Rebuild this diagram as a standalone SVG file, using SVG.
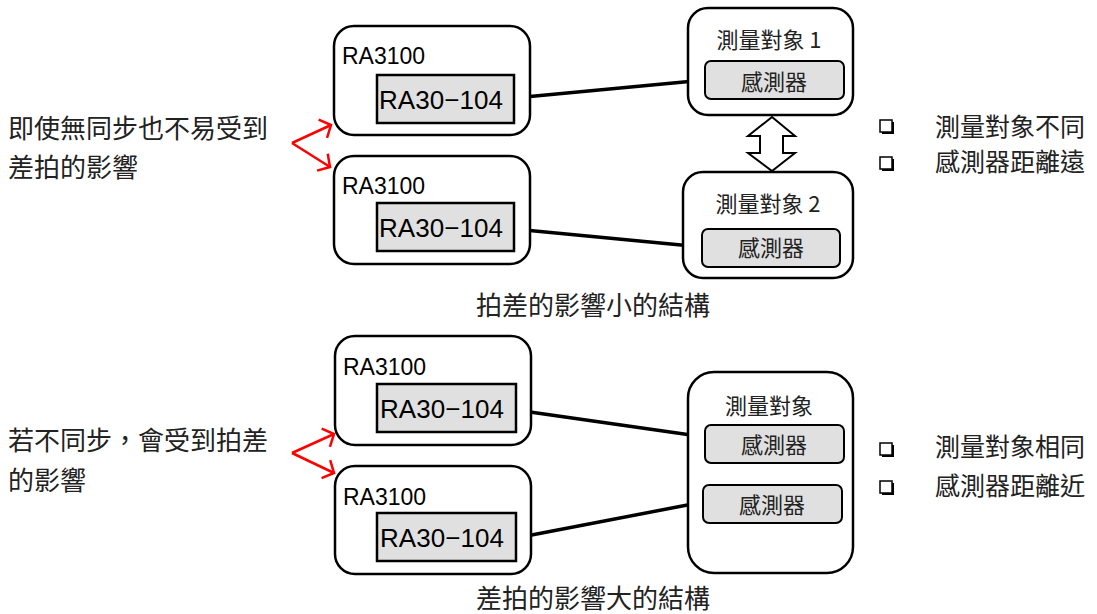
<svg xmlns="http://www.w3.org/2000/svg" width="1097" height="614" viewBox="0 0 1097 614">
<style>
.outer{fill:#fff;stroke:#000;stroke-width:2.5}
.inner{fill:#e0e0e0;stroke:#000;stroke-width:2.5}
.sensor{fill:#e0e0e0;stroke:#000;stroke-width:2}
.lat{font-family:"Liberation Sans",Arial,sans-serif;fill:#000}
.cjk{font-family:"Noto Sans CJK TC","Noto Sans CJK SC",sans-serif;fill:#222}
.conn{stroke:#000;stroke-width:3.5;fill:none}
.red{stroke:#ff0000;stroke-width:2.5;fill:none}
.bul{fill:#fff;stroke:#000;stroke-width:1.5}
.mid{text-anchor:middle}
</style>
<defs>
<marker id="ah" viewBox="-12 -12 14 24" refX="0" refY="0" markerWidth="14" markerHeight="24" markerUnits="userSpaceOnUse" orient="auto">
<path d="M-9,-10 L0,0 L-9,10" fill="none" stroke="#ff0000" stroke-width="2.5"/>
</marker>
<g id="bullet">
<rect x="2" y="2" width="12" height="12" fill="#000"/>
<rect x="0" y="0" width="12" height="12" class="bul"/>
</g>
</defs>

<!-- connectors -->
<g id="connectors">
<line class="conn" x1="514" y1="98" x2="705" y2="80"/>
<line class="conn" x1="514" y1="229" x2="702" y2="247"/>
<line class="conn" x1="516" y1="410" x2="705" y2="437"/>
<line class="conn" x1="516" y1="538" x2="703" y2="502"/>
<line class="red" x1="292" y1="143" x2="331" y2="125" marker-end="url(#ah)"/>
<line class="red" x1="292" y1="143" x2="330" y2="167" marker-end="url(#ah)"/>
<line class="red" x1="292" y1="453" x2="334" y2="434" marker-end="url(#ah)"/>
<line class="red" x1="292" y1="453" x2="334" y2="473" marker-end="url(#ah)"/>
<polygon points="772,117 795,136 783,136 783,153 795,153 772,171 748,153 760,153 760,136 748,136" fill="#fff" stroke="#000" stroke-width="2"/>
</g>

<!-- top section -->
<g id="ra3100-a">
<rect class="outer" x="334" y="26" width="196" height="109" rx="20"/>
<text class="lat" x="342" y="64" font-size="23">RA3100</text>
<rect class="inner" x="377" y="75" width="137" height="48"/>
<text class="lat" x="379" y="109" font-size="26" textLength="124">RA30−104</text>
</g>
<g id="ra3100-b">
<rect class="outer" x="334" y="156" width="196" height="108" rx="20"/>
<text class="lat" x="342" y="194" font-size="23">RA3100</text>
<rect class="inner" x="377" y="203" width="137" height="48"/>
<text class="lat" x="379" y="237" font-size="26" textLength="124">RA30−104</text>
</g>
<g id="target-1">
<rect class="outer" x="688" y="8" width="165" height="107" rx="20"/>
<text class="cjk mid" x="769" y="48" font-size="22">測量對象 1</text>
<rect class="sensor" x="705" y="61" width="139" height="38" rx="6"/>
<text class="cjk mid" x="774" y="90" font-size="22">感測器</text>
</g>
<g id="target-2">
<rect class="outer" x="683" y="172" width="170" height="106" rx="20"/>
<text class="cjk mid" x="768" y="212" font-size="22">測量對象 2</text>
<rect class="sensor" x="702" y="229" width="138" height="38" rx="6"/>
<text class="cjk mid" x="771" y="256" font-size="22">感測器</text>
</g>
<g id="note-top-left">
<text class="cjk" x="8" y="138" font-size="26">即使無同步也不易受到</text>
<text class="cjk" x="8" y="177" font-size="26">差拍的影響</text>
</g>
<g id="note-top-right">
<use href="#bullet" x="880" y="120"/>
<use href="#bullet" x="880" y="157"/>
<text class="cjk" x="935" y="136" font-size="25">測量對象不同</text>
<text class="cjk" x="935" y="171" font-size="25">感測器距離遠</text>
</g>
<g id="caption-top">
<text class="cjk mid" x="593" y="315" font-size="26">拍差的影響小的結構</text>
</g>

<!-- bottom section -->
<g id="ra3100-c">
<rect class="outer" x="335" y="336" width="196" height="109" rx="20"/>
<text class="lat" x="343" y="375" font-size="23">RA3100</text>
<rect class="inner" x="377" y="384" width="139" height="48"/>
<text class="lat" x="380" y="418" font-size="26" textLength="124">RA30−104</text>
</g>
<g id="ra3100-d">
<rect class="outer" x="335" y="466" width="196" height="108" rx="20"/>
<text class="lat" x="343" y="505" font-size="23">RA3100</text>
<rect class="inner" x="377" y="513" width="139" height="48"/>
<text class="lat" x="380" y="547" font-size="26" textLength="124">RA30−104</text>
</g>
<g id="target-same">
<rect class="outer" x="688" y="372" width="165" height="201" rx="26"/>
<text class="cjk mid" x="769" y="414" font-size="22">測量對象</text>
<rect class="sensor" x="705" y="425" width="139" height="38" rx="6"/>
<text class="cjk mid" x="774" y="453" font-size="22">感測器</text>
<rect class="sensor" x="703" y="485" width="139" height="38" rx="6"/>
<text class="cjk mid" x="772" y="513" font-size="22">感測器</text>
</g>
<g id="note-bottom-left">
<text class="cjk" x="8" y="450" font-size="26">若不同步，會受到拍差</text>
<text class="cjk" x="8" y="490" font-size="26">的影響</text>
</g>
<g id="note-bottom-right">
<use href="#bullet" x="880" y="443"/>
<use href="#bullet" x="880" y="481"/>
<text class="cjk" x="935" y="456" font-size="25">測量對象相同</text>
<text class="cjk" x="935" y="495" font-size="25">感測器距離近</text>
</g>
<g id="caption-bottom">
<text class="cjk mid" x="593" y="608" font-size="26">差拍的影響大的結構</text>
</g>
</svg>
